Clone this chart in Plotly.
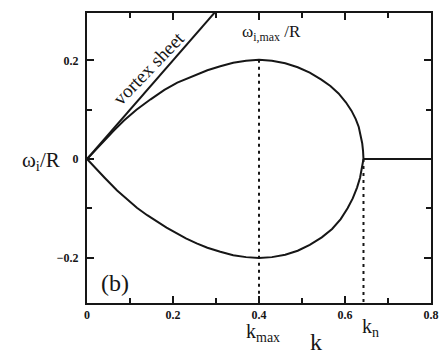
import plotly.graph_objects as go

# Growth-rate loop: upper and lower branches of omega_i/R versus k
k_upper = [0.0, 0.020, 0.040, 0.063, 0.086, 0.115, 0.148, 0.180, 0.210, 0.245, 0.280,
           0.310, 0.340, 0.370, 0.400, 0.430, 0.461, 0.490, 0.518, 0.545, 0.566,
           0.585, 0.602, 0.615, 0.625, 0.632, 0.637, 0.640, 0.642, 0.643]
w_upper = [0.0, 0.019, 0.038, 0.058, 0.078, 0.100, 0.121, 0.140, 0.155, 0.168, 0.180,
           0.188, 0.195, 0.199, 0.201, 0.199, 0.194, 0.186, 0.175, 0.161, 0.148,
           0.133, 0.115, 0.098, 0.081, 0.065, 0.048, 0.032, 0.016, 0.0]

k_lower = [0.0, 0.020, 0.041, 0.070, 0.093, 0.116, 0.140, 0.161, 0.185, 0.207, 0.230,
           0.255, 0.280, 0.310, 0.340, 0.370, 0.400, 0.430, 0.461, 0.490, 0.518,
           0.546, 0.570, 0.590, 0.606, 0.618, 0.628, 0.635, 0.640, 0.643]
w_lower = [0.0, -0.019, -0.038, -0.064, -0.082, -0.099, -0.114, -0.126, -0.139, -0.150,
           -0.161, -0.171, -0.180, -0.188, -0.195, -0.199, -0.201, -0.199, -0.194,
           -0.186, -0.174, -0.159, -0.142, -0.122, -0.100, -0.080, -0.058, -0.038,
           -0.018, 0.0]

# Vortex-sheet limit omega_i = k
k_vortex = [0.0, 0.32]
w_vortex = [0.0, 0.32]

# Neutral branch beyond k_n
k_flat = [0.643, 0.8]
w_flat = [0.0, 0.0]

k_max, w_max = 0.4, 0.201
k_n = 0.643

x_tick_vals = [0, 0.2, 0.4, 0.6, 0.8]
x_tick_text = ["0", "0.2", "0.4", "0.6", "0.8"]
y_tick_vals = [-0.2, 0, 0.2]
y_tick_text = ["\u22120.2", "0", "0.2"]

x_left, x_right = 0.0, 0.8
y_bottom, y_top = -0.292, 0.296

SERIF = "Liberation Serif"
INK = "#161616"

fig = go.Figure()
line_style = dict(color=INK, width=2)

fig.add_trace(go.Scatter(x=k_upper, y=w_upper, mode="lines", line=line_style))
fig.add_trace(go.Scatter(x=k_lower, y=w_lower, mode="lines", line=line_style))
fig.add_trace(go.Scatter(x=k_vortex, y=w_vortex, mode="lines", line=line_style))
fig.add_trace(go.Scatter(x=k_flat, y=w_flat, mode="lines", line=line_style))

# Dashed markers for k_max and k_n
dash_style = dict(color=INK, width=2, dash="3px,4px")
fig.add_trace(go.Scatter(x=[k_max, k_max], y=[w_max, y_bottom], mode="lines", line=dash_style))
fig.add_trace(go.Scatter(x=[k_n, k_n], y=[0.0, y_bottom], mode="lines", line=dash_style))

# Invisible trace that anchors the mirrored top/right tick axes
fig.add_trace(go.Scatter(x=[x_left], y=[0], xaxis="x2", yaxis="y2", mode="markers",
                         marker=dict(opacity=0), hoverinfo="skip"))

tick_common = dict(ticks="inside", ticklen=7, tickwidth=2, tickcolor=INK)
minor_common = dict(dtick=0.1, ticks="inside", ticklen=5, tickwidth=2, tickcolor=INK)

axis_common = dict(
    showgrid=False, zeroline=False, showline=True, linecolor=INK, linewidth=2,
    mirror=True, tickfont=dict(family=SERIF, size=12, color=INK, weight="bold"),
    **tick_common,
)

fig.update_layout(
    xaxis=dict(range=[x_left, x_right], tickvals=x_tick_vals, ticktext=x_tick_text,
               minor=minor_common, **axis_common),
    yaxis=dict(range=[y_bottom, y_top], tickvals=y_tick_vals, ticktext=y_tick_text,
               minor=minor_common, ticklabelstandoff=4, **axis_common),
    xaxis2=dict(range=[x_left, x_right], overlaying="x", side="top", anchor="y2",
                tickvals=x_tick_vals, showticklabels=False, showgrid=False,
                zeroline=False, showline=False, minor=minor_common, **tick_common),
    yaxis2=dict(range=[y_bottom, y_top], overlaying="y", side="right", anchor="x2",
                tickvals=y_tick_vals, showticklabels=False, showgrid=False,
                zeroline=False, showline=False, minor=minor_common, **tick_common),
)

annotations = [
    dict(text="\u03c9<sub>i</sub>/R", xref="paper", yref="paper", x=-0.135, y=0.49,
         font=dict(size=21, family=SERIF)),
    dict(text="\u03c9<sub>i,max</sub> /R", xref="paper", yref="paper", x=0.535, y=0.93,
         font=dict(size=17, family=SERIF)),
    dict(text="vortex sheet", xref="paper", yref="paper", x=0.178, y=0.81, textangle=-46,
         font=dict(size=19, family=SERIF)),
    dict(text="(b)", xref="x", yref="y", x=0.065, y=-0.252,
         font=dict(size=24, family=SERIF)),
    dict(text="k<sub>max</sub>", xref="x", yref="paper", x=0.41, y=-0.10,
         font=dict(size=20, family=SERIF)),
    dict(text="k<sub>n</sub>", xref="x", yref="paper", x=0.66, y=-0.085,
         font=dict(size=20, family=SERIF)),
    dict(text="k", xref="paper", yref="paper", x=0.665, y=-0.135,
         font=dict(size=24, family=SERIF)),
]
for a in annotations:
    a.update(showarrow=False, xanchor="center", yanchor="middle")
    a["font"]["color"] = INK

fig.update_layout(
    width=446, height=354,
    margin=dict(l=87, r=7, t=13, b=51),
    paper_bgcolor="white", plot_bgcolor="white",
    showlegend=False,
    annotations=annotations,
)

fig.write_html("out.html")
